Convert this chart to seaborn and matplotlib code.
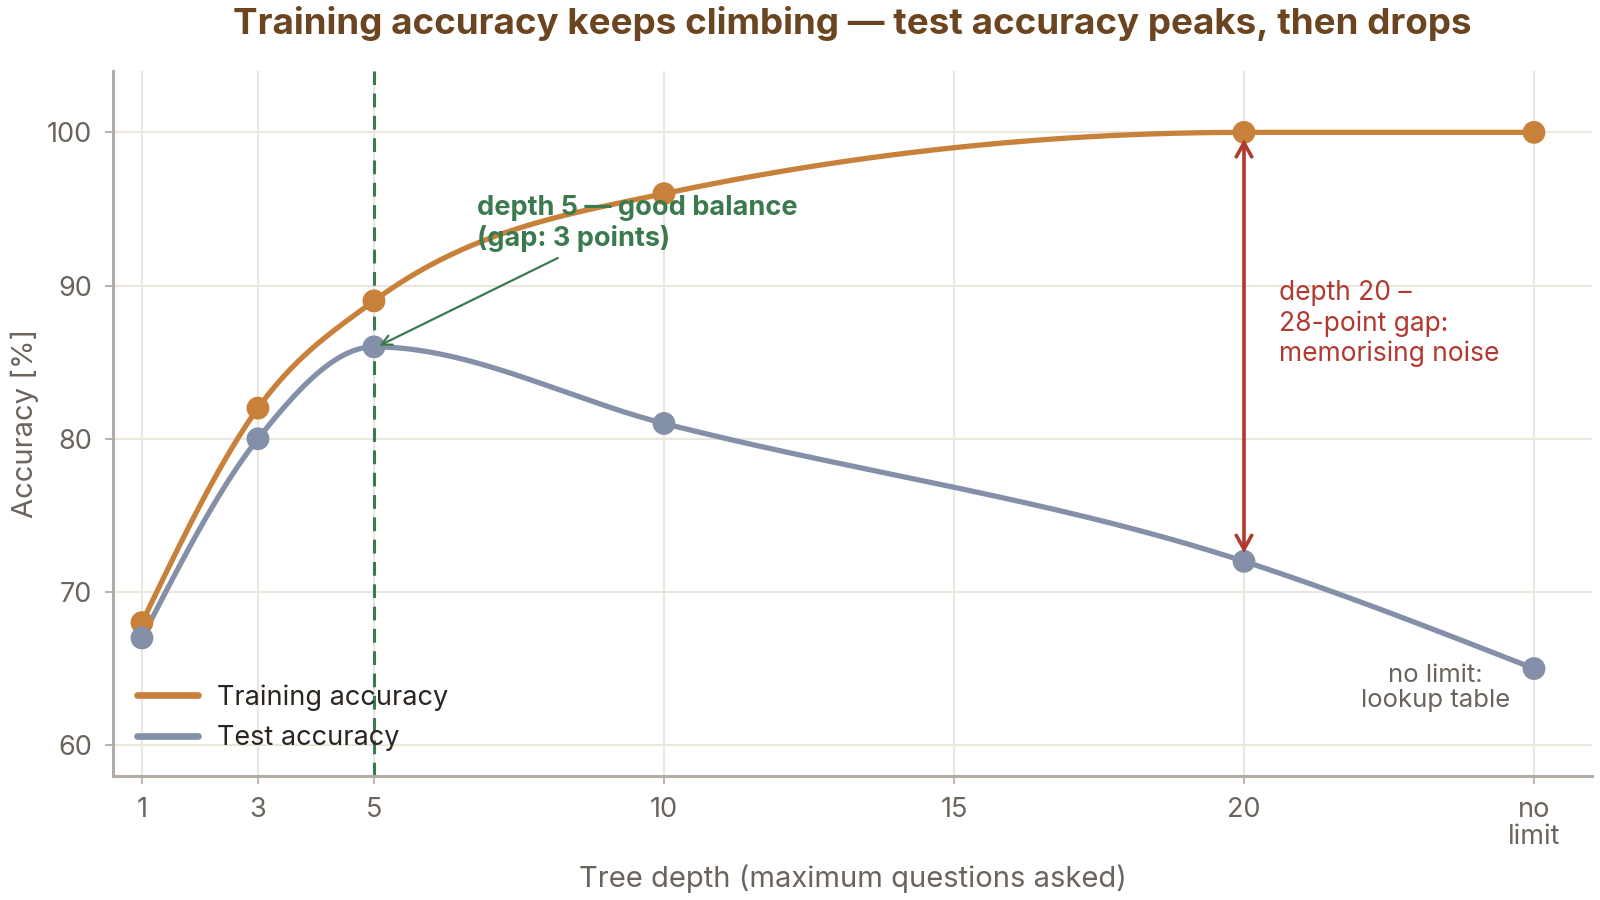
import numpy as np
import pandas as pd
import matplotlib
matplotlib.use("Agg")
import matplotlib.pyplot as plt
import seaborn as sns
from matplotlib.lines import Line2D

# ---- data ----
depth_labels = ["1", "3", "5", "10", "20", "no limit"]
depth_pos = [1, 3, 5, 10, 20, 25]
train_acc = [68, 82, 89, 96, 100, 100]
test_acc = [67, 80, 86, 81, 72, 65]
xtick_pos = [1, 3, 5, 10, 15, 20, 25]
xtick_labels = ["1", "3", "5", "10", "15", "20", "no\nlimit"]
ytick_vals = [60, 70, 80, 90, 100]

C_TRAIN = "#c8813a"
C_TEST = "#8490a8"
C_GREEN = "#3b7a4e"
C_RED = "#b03a30"
C_TITLE = "#6b4420"
C_TEXT = "#6b645c"
C_SPINE = "#b3ada5"
C_GRID = "#ebe7df"


def monotone_x(x, y, n_per=80):
    """Monotone cubic interpolation (same tangents as d3.curveMonotoneX)."""
    x = np.asarray(x, float)
    y = np.asarray(y, float)
    h = np.diff(x)
    s = np.diff(y) / h
    m = np.zeros_like(y)
    for i in range(1, len(x) - 1):
        p = (s[i - 1] * h[i] + s[i] * h[i - 1]) / (h[i - 1] + h[i])
        m[i] = (np.sign(s[i - 1]) + np.sign(s[i])) * min(abs(s[i - 1]), abs(s[i]), 0.5 * abs(p))
    m[0] = (3 * s[0] - m[1]) / 2
    m[-1] = (3 * s[-1] - m[-2]) / 2
    xs_all, ys_all = [], []
    for i in range(len(x) - 1):
        t = np.linspace(0, 1, n_per)
        h00 = 2 * t**3 - 3 * t**2 + 1
        h10 = t**3 - 2 * t**2 + t
        h01 = -2 * t**3 + 3 * t**2
        h11 = t**3 - t**2
        xs_all.append(x[i] + t * h[i])
        ys_all.append(h00 * y[i] + h10 * h[i] * m[i] + h01 * y[i + 1] + h11 * h[i] * m[i + 1])
    return np.concatenate(xs_all), np.concatenate(ys_all)


sns.set_theme(style="white")
plt.rcParams["font.family"] = ["Inter", "DejaVu Sans"]

fig = plt.figure(figsize=(16, 9), dpi=100)
ax = fig.add_axes([0.0706, 0.138, 0.9244, 0.783])

xs_tr, ys_tr = monotone_x(depth_pos, train_acc)
xs_te, ys_te = monotone_x(depth_pos, test_acc)
curves = pd.concat([
    pd.DataFrame({"x": xs_tr, "y": ys_tr, "series": "Training accuracy"}),
    pd.DataFrame({"x": xs_te, "y": ys_te, "series": "Test accuracy"}),
])
points = pd.concat([
    pd.DataFrame({"x": depth_pos, "y": train_acc, "series": "Training accuracy"}),
    pd.DataFrame({"x": depth_pos, "y": test_acc, "series": "Test accuracy"}),
])
palette = {"Training accuracy": C_TRAIN, "Test accuracy": C_TEST}

ax.axvline(5, color=C_GREEN, lw=2.2, ls=(0, (4.5, 2.8)), zorder=2)

sns.lineplot(data=curves, x="x", y="y", hue="series", palette=palette,
             lw=3.8, ax=ax, sort=False, estimator=None, zorder=3,
             hue_order=["Test accuracy", "Training accuracy"], legend=False)
sns.scatterplot(data=points, x="x", y="y", hue="series", palette=palette,
                s=270, linewidth=0, ax=ax, zorder=4, legend=False)

# legend
handles = [Line2D([0], [0], color=C_TRAIN, lw=4.8),
           Line2D([0], [0], color=C_TEST, lw=4.8)]
leg = ax.legend(handles, ["Training accuracy", "Test accuracy"],
                loc="lower left", frameon=False,
                fontsize=19.5, handlelength=2.25, handletextpad=0.7,
                labelspacing=0.55, borderaxespad=0.5)
for t in leg.get_texts():
    t.set_color("#2b2520")

ax.set_xlim(0.5, 26)
ax.set_ylim(58, 104)
ax.set_xticks(xtick_pos)
ax.set_xticklabels(xtick_labels, linespacing=1.05)
ax.set_yticks(ytick_vals)
ax.tick_params(axis="both", colors=C_SPINE, labelcolor=C_TEXT, labelsize=19.5,
               length=6, width=1.3, direction="out", pad=9, bottom=True, left=True)
ax.grid(True, color=C_GRID, lw=1.5)
ax.set_axisbelow(True)
for s in ["top", "right"]:
    ax.spines[s].set_visible(False)
for s in ["left", "bottom"]:
    ax.spines[s].set_color(C_SPINE)
    ax.spines[s].set_linewidth(2.2)

ax.set_xlabel("Tree depth (maximum questions asked)", fontsize=21, color=C_TEXT, labelpad=11)
ax.set_ylabel("Accuracy [%]", fontsize=21, color=C_TEXT, labelpad=6)

fig.text(0.5327, 0.974, "Training accuracy keeps climbing \u2014 test accuracy peaks, then drops",
         ha="center", va="center", fontsize=26.5, fontweight="bold", color=C_TITLE)

# green annotation
ax.annotate("", xy=(5.05, 86.0), xytext=(8.17, 91.8),
            arrowprops=dict(arrowstyle="->", color=C_GREEN, lw=1.6,
                            shrinkA=0, shrinkB=2, mutation_scale=18), zorder=5)
ax.text(6.78, 94.05, "depth 5 \u2014 good balance\n(gap: 3 points)", fontsize=19.5,
        fontweight="bold", color=C_GREEN, ha="left", va="center", linespacing=1.2, zorder=6)

# red double arrow (open chevron heads)
ax.annotate("", xy=(20, 72.55), xytext=(20, 99.55),
            arrowprops=dict(arrowstyle="<->,head_length=0.5,head_width=0.28", color=C_RED, lw=2.6,
                            shrinkA=0, shrinkB=0, mutation_scale=20,
                            capstyle="round", joinstyle="miter"), zorder=5)
ax.text(20.6, 87.5, "depth 20 \u2013\n28-point gap:\nmemorising noise", fontsize=19,
        color=C_RED, ha="left", va="center", linespacing=1.2)

ax.text(23.3, 63.75, "no limit:\nlookup table", fontsize=18.5, color=C_TEXT,
        ha="center", va="center", linespacing=1.1)

fig.savefig("out.png", dpi=100)
